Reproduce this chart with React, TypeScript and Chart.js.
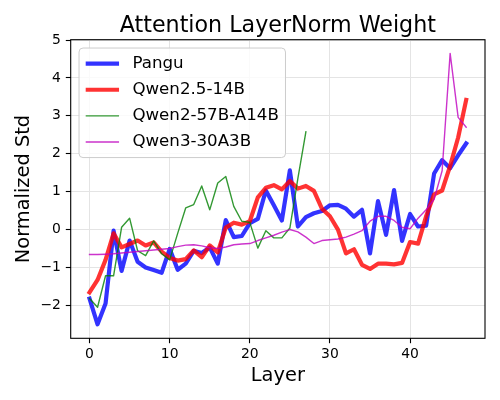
import React, { useEffect, useRef } from "react";
import { Chart, registerables } from "chart.js";

Chart.register(...registerables);

const layers = Array.from({ length: 48 }, (_, i) => i);

const seriesNames = ["Pangu", "Qwen2.5-14B", "Qwen2-57B-A14B", "Qwen3-30A3B"];

const pangu = [
  -1.82, -2.5, -1.95, -0.03, -1.09, -0.29, -0.85, -1.0, -1.07, -1.14,
  -0.51, -1.06, -0.9, -0.56, -0.62, -0.47, -0.9, 0.25, -0.2, -0.17,
  0.17, 0.28, 1.03, 0.64, 0.24, 1.56, 0.08, 0.33, 0.43, 0.49,
  0.64, 0.65, 0.55, 0.34, 0.52, -0.63, 0.75, -0.14, 1.04, -0.3,
  0.41, 0.08, 0.1, 1.48, 1.83, 1.62, 1.96, 2.27,
];

const qwen25_14b = [
  -1.66, -1.33, -0.8, -0.1, -0.47, -0.38, -0.29, -0.42, -0.34, -0.58,
  -0.75, -0.82, -0.78, -0.55, -0.73, -0.42, -0.6, 0.05, 0.18, 0.13,
  0.22, 0.85, 1.1, 1.17, 1.06, 1.28, 1.08, 1.15, 1.02, 0.55,
  0.35, 0.0, -0.63, -0.52, -0.93, -1.04, -0.9, -0.9, -0.92, -0.88,
  -0.33, -0.37, 0.35, 0.93, 1.03, 1.68, 2.43, 3.42,
];

const qwen2_57b_a14b = [
  -1.82, -2.05, -1.22, -1.22, 0.06, 0.3, -0.56, -0.69, -0.3, -0.64,
  -0.8, -0.1, 0.57, 0.66, 1.15, 0.52, 1.23, 1.4, 0.61, 0.22,
  0.19, -0.49, -0.03, -0.22, -0.22, 0.04, 1.35, 2.58,
];

const qwen3_30a3b = [
  -0.66, -0.66, -0.65, -0.64, -0.62, -0.6, -0.58, -0.56, -0.54, -0.52,
  -0.5, -0.45, -0.41, -0.4, -0.43, -0.48, -0.5, -0.46, -0.4, -0.38,
  -0.37, -0.29, -0.22, -0.15, -0.07, 0.0, -0.06, -0.2, -0.37, -0.29,
  -0.27, -0.25, -0.2, -0.12, -0.03, 0.22, 0.35, 0.35, 0.24, 0.06,
  0.02, 0.3, 0.52, 0.8, 1.55, 4.65, 2.96, 2.7,
];

const xTicks = [0, 10, 20, 30, 40];
const yTicks = [-2, -1, 0, 1, 2, 3, 4, 5];

const titleText = "Attention LayerNorm Weight";
const xLabel = "Layer";
const yLabel = "Normalized Std";

const FONT = '"DejaVu Sans", sans-serif';

const toPoints = (vals: number[]) => vals.map((v, i) => ({ x: layers[i], y: v }));

const fmt = (v: number) => (v < 0 ? "\u2212" + Math.abs(v) : String(v));

const decorPlugin = {
  id: "decor",
  afterDatasetsDraw(chart: any) {
    const { ctx, chartArea: a } = chart;
    ctx.save();
    ctx.strokeStyle = "#000";
    ctx.lineWidth = 1.1;
    ctx.strokeRect(a.left, a.top, a.right - a.left, a.bottom - a.top);
    ctx.restore();
  },
  afterDraw(chart: any) {
    const { ctx, chartArea: a } = chart;
    ctx.save();
    // title
    ctx.font = `22.2px ${FONT}`;
    ctx.fillStyle = "#000";
    ctx.textAlign = "center";
    ctx.textBaseline = "alphabetic";
    ctx.fillText(titleText, (a.left + a.right) / 2, 31.7);

    // legend
    const fs = 16.67;
    ctx.font = `${fs}px ${FONT}`;
    const dsets = chart.data.datasets;
    const maxW = Math.max(...dsets.map((d: any) => ctx.measureText(d.label).width));
    const pad = 0.4 * fs;
    const handleLen = 2 * fs;
    const textPad = 0.8 * fs;
    const spacing = 0.5 * fs;
    const rowH = 17.8;
    const bx = a.left + 0.5 * fs;
    const by = a.top + 0.5 * fs;
    const w = pad + handleLen + textPad + maxW + pad;
    const h = pad * 2 + rowH * dsets.length + spacing * (dsets.length - 1);
    const r = 4;
    ctx.beginPath();
    ctx.moveTo(bx + r, by);
    ctx.lineTo(bx + w - r, by);
    ctx.arcTo(bx + w, by, bx + w, by + r, r);
    ctx.lineTo(bx + w, by + h - r);
    ctx.arcTo(bx + w, by + h, bx + w - r, by + h, r);
    ctx.lineTo(bx + r, by + h);
    ctx.arcTo(bx, by + h, bx, by + h - r, r);
    ctx.lineTo(bx, by + r);
    ctx.arcTo(bx, by, bx + r, by, r);
    ctx.closePath();
    ctx.fillStyle = "rgba(255,255,255,0.8)";
    ctx.fill();
    ctx.strokeStyle = "#cccccc";
    ctx.lineWidth = 1;
    ctx.stroke();

    dsets.forEach((d: any, i: number) => {
      const cy = by + pad + rowH / 2 + i * (rowH + spacing);
      ctx.beginPath();
      ctx.moveTo(bx + pad, cy);
      ctx.lineTo(bx + pad + handleLen, cy);
      ctx.strokeStyle = d.borderColor;
      ctx.lineWidth = d.borderWidth;
      ctx.lineCap = "butt";
      ctx.stroke();
      ctx.fillStyle = "#000";
      ctx.textAlign = "left";
      ctx.textBaseline = "middle";
      ctx.fillText(d.label, bx + pad + handleLen + textPad, cy);
    });
    ctx.restore();
  },
};

export default function App() {
  const canvasRef = useRef<HTMLCanvasElement | null>(null);

  useEffect(() => {
    if (!canvasRef.current) return;
    const thick = 4.2;
    const thin = 1.4;
    const common = {
      pointRadius: 0,
      pointHoverRadius: 0,
      tension: 0,
      fill: false,
      borderJoinStyle: "round" as const,
      borderCapStyle: "square" as const,
    };
    const chart = new Chart(canvasRef.current, {
      type: "line",
      data: {
        datasets: [
          { ...common, label: seriesNames[0], data: toPoints(pangu), borderColor: "rgba(0,0,255,0.8)", borderWidth: thick, order: 3 },
          { ...common, label: seriesNames[1], data: toPoints(qwen25_14b), borderColor: "rgba(255,0,0,0.8)", borderWidth: thick, order: 2 },
          { ...common, label: seriesNames[2], data: toPoints(qwen2_57b_a14b), borderColor: "rgba(0,128,0,0.8)", borderWidth: thin, order: 1 },
          { ...common, label: seriesNames[3], data: toPoints(qwen3_30a3b), borderColor: "rgba(191,0,191,0.8)", borderWidth: thin, order: 0 },
        ],
      },
      options: {
        animation: false,
        responsive: false,
        devicePixelRatio: 1,
        layout: { padding: { top: 39.7, right: 15, bottom: 0, left: 0 } },
        plugins: {
          legend: { display: false },
          title: { display: false },
          tooltip: { enabled: false },
        },
        events: [],
        scales: {
          x: {
            type: "linear",
            min: -2.35,
            max: 49.35,
            afterBuildTicks: (s: any) => {
              s.ticks = xTicks.map((v) => ({ value: v }));
            },
            afterFit: (s: any) => {
              s.height = 61.7;
            },
            grid: {
              color: "#e4e4e4",
              lineWidth: 1,
              tickColor: "#000",
              tickLength: 4.9,
              tickWidth: 1.1,
              drawTicks: true,
            },
            border: { display: false },
            ticks: {
              color: "#000",
              font: { family: FONT, size: 13.9 },
              padding: 3,
              maxRotation: 0,
              callback: (v: any) => fmt(Number(v)),
            },
            title: {
              display: true,
              text: xLabel,
              color: "#000",
              font: { family: FONT, size: 19.4 },
              padding: { top: 0, bottom: 12.8 },
            },
          },
          y: {
            type: "linear",
            min: -2.87,
            max: 5.01,
            afterBuildTicks: (s: any) => {
              s.ticks = yTicks.map((v) => ({ value: v }));
            },
            afterFit: (s: any) => {
              s.width = 70.7;
            },
            grid: {
              color: "#e4e4e4",
              lineWidth: 1,
              tickColor: "#000",
              tickLength: 4.9,
              tickWidth: 1.1,
              drawTicks: true,
            },
            border: { display: false },
            ticks: {
              color: "#000",
              font: { family: FONT, size: 13.9 },
              padding: 4.9,
              callback: (v: any) => fmt(Number(v)),
            },
            title: {
              display: true,
              text: yLabel,
              color: "#000",
              font: { family: FONT, size: 19.4 },
              padding: { top: 12.8, bottom: 0 },
            },
          },
        },
      },
      plugins: [decorPlugin],
    });
    return () => chart.destroy();
  }, []);

  return (
    <div style={{ position: "absolute", left: 0, top: 0, width: 500, height: 400, background: "#fff" }}>
      <canvas ref={canvasRef} width={500} height={400} style={{ width: 500, height: 400, display: "block" }} />
    </div>
  );
}
